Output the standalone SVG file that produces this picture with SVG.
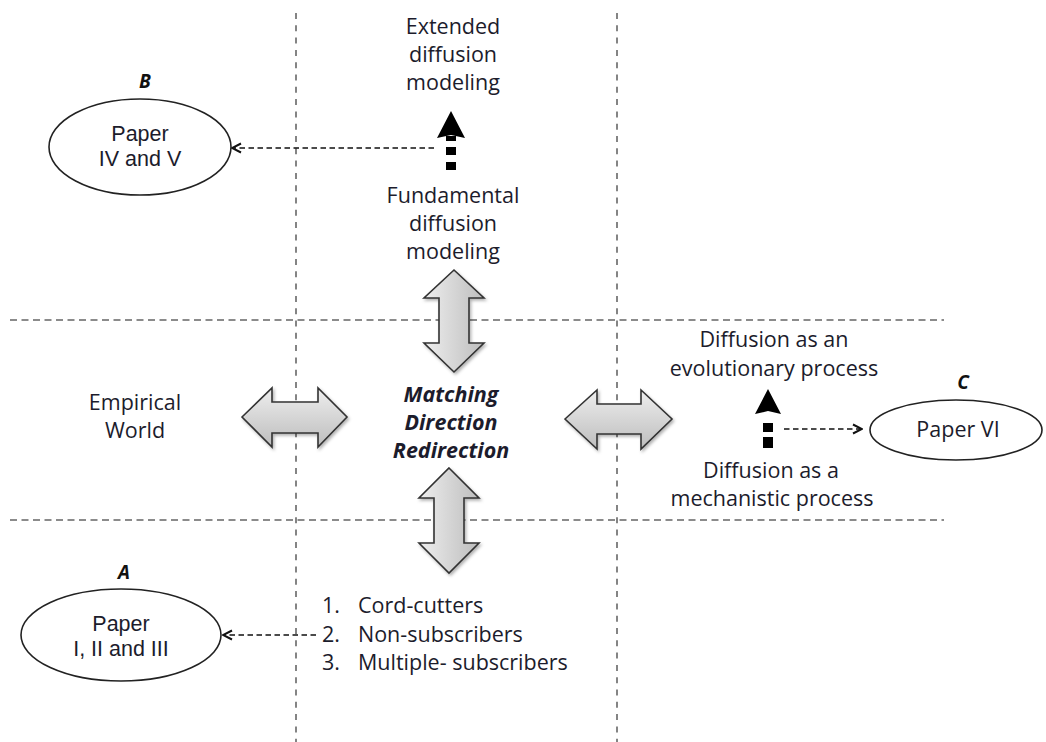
<svg xmlns="http://www.w3.org/2000/svg" width="1046" height="742" viewBox="0 0 1046 742">
<defs>
<style>
.t{font-family:"Open Sans","Liberation Sans",sans-serif;font-size:21.5px;fill:#1c1c2c;text-anchor:middle}
.te{font-family:"Liberation Sans",Arial,sans-serif;font-size:21.5px;fill:#1c1c2c;text-anchor:middle}
.tl{font-family:"Open Sans","Liberation Sans",sans-serif;font-size:21.5px;fill:#1c1c2c}
.bi{font-family:"Open Sans","Liberation Sans",sans-serif;font-size:21.5px;font-weight:bold;font-style:italic;fill:#1c1c2c;text-anchor:middle}
.lab{font-family:"Open Sans","Liberation Sans",sans-serif;font-size:19px;font-weight:bold;font-style:italic;fill:#111;text-anchor:middle}
.grid{stroke:#666;stroke-width:1.6;fill:none}
.gh{stroke-dasharray:7 4.5}
.gv{stroke-dasharray:6 6.3}
.ell{fill:#fff;stroke:#222;stroke-width:1.6}
.big{stroke:#333;stroke-width:1.6;stroke-linejoin:miter;filter:url(#sh)}
.thin{stroke:#111;stroke-width:1.6;stroke-dasharray:5.5 3.5;fill:none;marker-end:url(#open)}
.thick{stroke:#000;stroke-width:10;fill:none}
</style>
<linearGradient id="gh" x1="0" y1="0" x2="0" y2="1">
<stop offset="0" stop-color="#eeeeee"/><stop offset="1" stop-color="#bdbdbd"/>
</linearGradient>
<linearGradient id="gv" x1="0" y1="0" x2="1" y2="0">
<stop offset="0" stop-color="#eeeeee"/><stop offset="1" stop-color="#bdbdbd"/>
</linearGradient>
<filter id="sh" x="-20%" y="-20%" width="140%" height="140%">
<feDropShadow dx="1.5" dy="2" stdDeviation="1.5" flood-color="#000" flood-opacity="0.3"/>
</filter>
<marker id="open" viewBox="0 0 12 12" refX="11" refY="6" markerWidth="12" markerHeight="12" markerUnits="userSpaceOnUse" orient="auto">
<path d="M2,1.5 L11,6 L2,10.5" fill="none" stroke="#111" stroke-width="2"/>
</marker>
</defs>

<g id="grid">
<line class="grid gv" x1="296" y1="13" x2="296" y2="742"/>
<line class="grid gv" x1="617" y1="13" x2="617" y2="742"/>
<line class="grid gh" x1="10" y1="320" x2="944" y2="320"/>
<line class="grid gh" x1="10" y1="520" x2="944" y2="520"/>
</g>

<g id="connectors">
<path class="big" fill="url(#gv)" d="M454,270 L484,298 L469,298 L469,343 L484,343 L454,372 L424,343 L439,343 L439,298 L424,298 Z"/>
<path class="big" fill="url(#gv)" d="M449,468 L479,498 L464,498 L464,543 L479,543 L449,573 L419,543 L434,543 L434,498 L419,498 Z"/>
<path class="big" fill="url(#gh)" d="M242,417 L272,388 L272,402 L318,402 L318,388 L347,417 L318,447 L318,433 L272,433 L272,447 Z"/>
<path class="big" fill="url(#gh)" d="M565,419 L597,390 L597,404 L641,404 L641,390 L672,419 L641,449 L641,434 L597,434 L597,449 Z"/>
<line class="thick" x1="451" y1="170" x2="451" y2="136" stroke-dasharray="8 7 8 6 8"/>
<path d="M451,111 L465,138 L451,135 L437,138 Z" fill="#000"/>
<line class="thick" x1="768" y1="448" x2="768" y2="412" stroke-dasharray="11 5 9 20"/>
<path d="M768,389 L781,414 L768,411 L755,414 Z" fill="#000"/>
<line class="thin" x1="434" y1="148" x2="232" y2="148"/>
<line class="thin" x1="316" y1="635" x2="223" y2="635"/>
<line class="thin" x1="784" y1="429" x2="862" y2="429"/>
</g>

<g id="nodeB">
<text class="lab" x="145" y="88">B</text>
<ellipse class="ell" cx="140" cy="147" rx="91" ry="48"/>
<text class="te" x="140" y="141">Paper</text>
<text class="te" x="140" y="166">IV and V</text>
</g>

<g id="nodeA">
<text class="lab" x="124" y="579">A</text>
<ellipse class="ell" cx="121" cy="635" rx="100" ry="46"/>
<text class="te" x="121" y="631">Paper</text>
<text class="te" x="121" y="656">I, II and III</text>
</g>

<g id="nodeC">
<text class="lab" x="963" y="389">C</text>
<ellipse class="ell" cx="956" cy="430" rx="86" ry="30"/>
<text class="t" x="958" y="437">Paper VI</text>
</g>

<g id="extended">
<text class="t" x="453" y="34">Extended</text>
<text class="t" x="453" y="62">diffusion</text>
<text class="t" x="453" y="90">modeling</text>
</g>

<g id="fundamental">
<text class="t" x="453" y="203">Fundamental</text>
<text class="t" x="453" y="231">diffusion</text>
<text class="t" x="453" y="259">modeling</text>
</g>

<g id="empirical">
<text class="t" x="135" y="410">Empirical</text>
<text class="t" x="135" y="438">World</text>
</g>

<g id="center">
<text class="bi" x="451" y="402">Matching</text>
<text class="bi" x="451" y="430">Direction</text>
<text class="bi" x="451" y="458">Redirection</text>
</g>

<g id="evolutionary">
<text class="t" x="774" y="347">Diffusion as an</text>
<text class="t" x="774" y="376">evolutionary process</text>
</g>

<g id="mechanistic">
<text class="t" x="771" y="478">Diffusion as a</text>
<text class="t" x="772" y="506">mechanistic process</text>
</g>

<g id="list">
<text class="tl" x="322" y="613">1.</text>
<text class="tl" x="358" y="613">Cord-cutters</text>
<text class="tl" x="322" y="642">2.</text>
<text class="tl" x="358" y="642">Non-subscribers</text>
<text class="tl" x="322" y="670">3.</text>
<text class="tl" x="358" y="670">Multiple- subscribers</text>
</g>
</svg>
